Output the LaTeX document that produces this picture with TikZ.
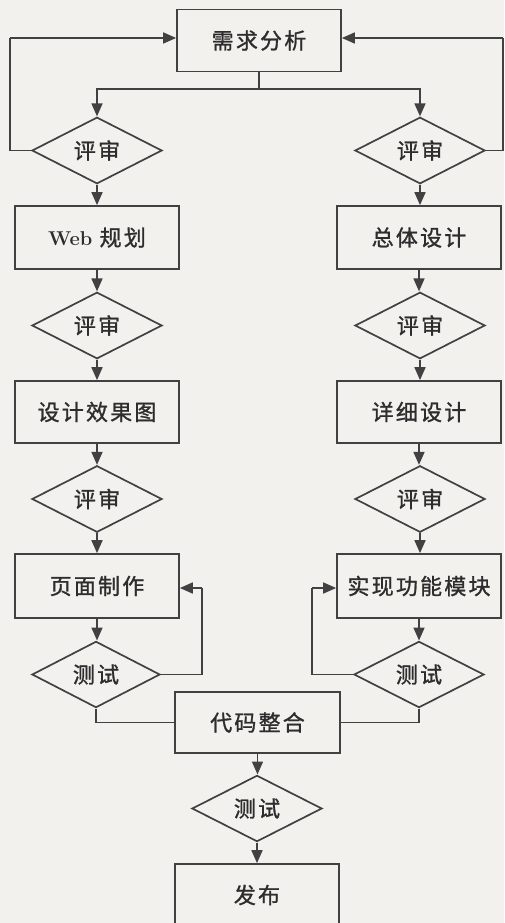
\documentclass[tikz,border=0pt]{standalone}
\usepackage{fontspec}
\newfontfamily\cjk[LetterSpace=10,FakeBold=1.2]{Noto Sans CJK SC}
\usetikzlibrary{shapes.geometric,arrows.meta,calc}
\definecolor{ln}{RGB}{65,65,65}
\definecolor{tx}{RGB}{45,45,45}
\definecolor{bg}{RGB}{242,241,238}
\tikzset{
  box/.style={draw=ln,line width=1.7pt,rectangle,minimum width=164pt,minimum height=62pt,inner sep=0pt,text=tx,font=\cjk\fontsize{22}{25}\selectfont},
  dia/.style={draw=ln,line width=1.7pt,diamond,minimum width=130pt,minimum height=55pt,inner sep=0pt,text=tx,font=\cjk\fontsize{22}{25}\selectfont},
  arr/.style={draw=ln,line width=1.7pt,-{Triangle[length=13pt,width=11pt]}},
  ln/.style={draw=ln,line width=1.7pt}
}
\begin{document}
\begin{tikzpicture}[x=1pt,y=-1pt]
\fill[bg] (0,0) rectangle (504,923);
\useasboundingbox (0,0) rectangle (504,923);
\clip (0,0) rectangle (504,923);
% nodes
\node[box] (n1) at (259,40.5) {需求分析};
\node[dia] (d1L) at (97,150.5) {评审};
\node[dia] (d1R) at (420,150.5) {评审};
\node[box,minimum height=63pt] (b2L) at (97,237.5) {{\normalfont\bfseries\fontsize{20}{24}\selectfont Web}\,\,规划};
\node[box,minimum height=63pt] (b2R) at (419,237.5) {总体设计};
\node[dia] (d2L) at (97,325.5) {评审};
\node[dia] (d2R) at (420,325.5) {评审};
\node[box] (b3L) at (97,412) {设计效果图};
\node[box] (b3R) at (419,412) {详细设计};
\node[dia] (d3L) at (97,499) {评审};
\node[dia] (d3R) at (420,499) {评审};
\node[box,minimum height=64pt] (b4L) at (97,586) {页面制作};
\node[box,minimum height=64pt] (b4R) at (419,586) {实现功能模块};
\node[dia,minimum width=128pt] (d4L) at (96,674.5) {测试};
\node[dia] (d4R) at (419,674.5) {测试};
\node[box,minimum width=165pt,minimum height=61pt] (b5) at (257.5,722.5) {代码整合};
\node[dia,minimum height=53pt] (d5) at (257,808.5) {测试};
\node[box] (b6) at (257,895) {发布};
% coordinates
\coordinate (br) at (259,89);
\coordinate (lpL) at (10,150.5);
\coordinate (lpLt) at (10,38);
\coordinate (lpR) at (503,150.5);
\coordinate (lpRt) at (503,38);
\coordinate (cL) at (202,588);
\coordinate (cR) at (312,588);
% connectors
\draw[ln] (n1.south) -- (br);
\draw[arr] (br) -| (d1L.north);
\draw[arr] (br) -| (d1R.north);
\draw[ln] (d1L.west) -- (lpL) -- (lpLt);
\draw[arr] (lpLt) -- (n1.west |- lpLt);
\draw[ln] (d1R.east) -- (lpR) -- (lpRt);
\draw[arr] (lpRt) -- (n1.east |- lpRt);
\draw[arr] (d1L.south) -- (b2L.north);
\draw[arr] (d1R.south) -- (d1R.south |- b2R.north);
\draw[arr] (b2L.south) -- (d2L.north);
\draw[arr] (b2R.south) -- (b2R.south |- d2R.north);
\draw[arr] (d2L.south) -- (b3L.north);
\draw[arr] (d2R.south) -- (d2R.south |- b3R.north);
\draw[arr] (b3L.south) -- (d3L.north);
\draw[arr] (b3R.south) -- (b3R.south |- d3R.north);
\draw[arr] (d3L.south) -- (b4L.north);
\draw[arr] (d3R.south) -- (d3R.south |- b4R.north);
\draw[arr] (b4L.south) -- (b4L.south |- d4L.north);
\draw[arr] (b4R.south) -- (d4R.north);
\draw[ln] (d4L.east) -| (cL);
\draw[arr] (cL) -- (b4L.east |- cL);
\draw[ln] (d4R.west) -| (cR);
\draw[arr] (cR) -- (b4R.west |- cR);
\draw[ln] (d4L.south) |- (b5.west);
\draw[ln] (d4R.south) |- (b5.east);
\draw[arr] (b5.south) -- (b5.south |- d5.north);
\draw[arr] (d5.south) -- (b6.north);
\end{tikzpicture}
\end{document}
